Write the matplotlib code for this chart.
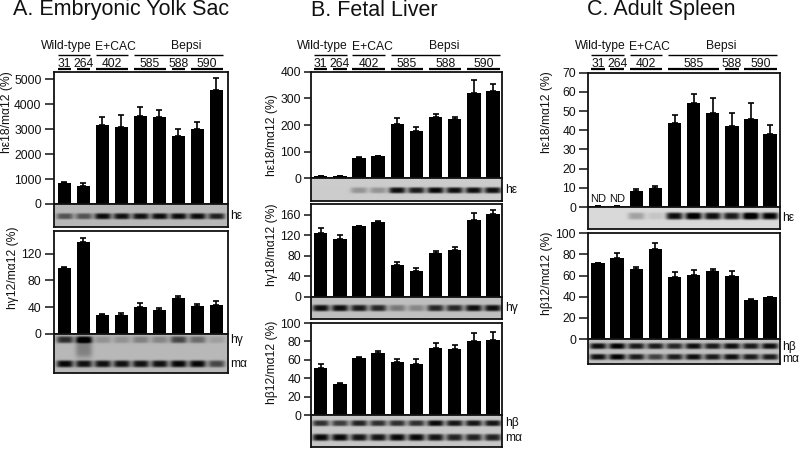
import matplotlib
matplotlib.use("Agg")
import matplotlib.pyplot as plt
from matplotlib.transforms import Affine2D, blended_transform_factory
import numpy as np

plt.rcParams['font.family'] = ['Liberation Sans', 'DejaVu Sans']

W, H = 800, 449
FS = 8.7

# bar heights and top of the error bars
a_eps = [860, 730, 3190, 3100, 3520, 3480, 2730, 3000, 4570]
a_eps_top = [897, 857, 3480, 3570, 3910, 3775, 3010, 3290, 5050]
a_gam = [98, 138, 28, 28, 40, 35, 53, 42, 43.5]
a_gam_top = [100.5, 144, 29.5, 31.5, 46, 38.5, 56, 45, 49]

b_eps = [7, 7, 78, 83, 205, 178, 230, 221, 320, 329]
b_eps_top = [8.5, 8.5, 79, 85, 227, 191, 243, 231, 367, 353]
b_gam = [125, 112, 137, 145, 62, 51, 86, 90, 149, 162]
b_gam_top = [133, 120, 138, 148, 67, 55, 89, 97, 164, 169]
b_bet = [51, 34, 62, 67.5, 57.5, 56, 73, 72, 81, 82]
b_bet_top = [56, 35, 63, 69.7, 61.5, 60.5, 78.7, 76, 89.5, 90.6]

c_eps = [0.4, 0.4, 8.3, 10, 43.6, 54.2, 49, 42.4, 46, 37.8]
c_eps_top = [0.4, 0.4, 9.5, 10.8, 47.7, 58.9, 57, 49, 54, 42.7]
c_bet = [71.6, 76.6, 66, 84.7, 59, 61, 64.4, 60, 36.6, 39.7]
c_bet_top = [72.2, 81, 67.8, 91, 63, 65.3, 66.3, 64, 37.5, 40]

# darkness of each gel band, lane by lane
a_eps_band = [0.4, 0.4, 0.68, 0.66, 0.66, 0.68, 0.68, 0.68, 0.6]
a_gam_band = [0.55, 0.7, 0.15, 0.15, 0.22, 0.2, 0.45, 0.3, 0.1]
a_gam_smear = [0, 0.22, 0, 0, 0, 0, 0, 0, 0]
a_ma_band = [0.7, 0.66, 0.66, 0.66, 0.66, 0.66, 0.7, 0.7, 0.45]
b_eps_band = [0, 0, 0.22, 0.22, 0.75, 0.7, 0.78, 0.75, 0.75, 0.75]
b_gam_band = [0.7, 0.7, 0.65, 0.6, 0.28, 0.22, 0.6, 0.6, 0.7, 0.7]
b_bet_band = [0.6, 0.55, 0.65, 0.6, 0.6, 0.6, 0.75, 0.7, 0.7, 0.7]
b_ma_band = [0.75, 0.75, 0.7, 0.7, 0.75, 0.75, 0.7, 0.65, 0.65, 0.65]
c_eps_band = [0, 0, 0.22, 0.08, 0.8, 0.9, 0.8, 0.75, 0.95, 0.85]
c_bet_band = [0.7, 0.75, 0.65, 0.65, 0.6, 0.7, 0.65, 0.7, 0.65, 0.7]
c_ma_band = [0.7, 0.75, 0.65, 0.5, 0.65, 0.7, 0.65, 0.7, 0.65, 0.65]

a_ticks = [0, 1000, 2000, 3000, 4000, 5000]
a_gam_ticks = [0, 40, 80, 120]
b_eps_ticks = [0, 100, 200, 300, 400]
b_gam_ticks = [0, 40, 80, 120, 160]
beta_ticks = [0, 20, 40, 60, 80, 100]
c_eps_ticks = [0, 10, 20, 30, 40, 50, 60, 70]

# lane numbers and the first/last lane they cover
a_lines = [('31', 0, 0), ('264', 1, 1), ('402', 2, 3), ('585', 4, 5), ('588', 6, 6), ('590', 7, 8)]
b_lines = [('31', 0, 0), ('264', 1, 1), ('402', 2, 3), ('585', 4, 5), ('588', 6, 7), ('590', 8, 9)]
c_lines = [('31', 0, 0), ('264', 1, 1), ('402', 2, 3), ('585', 4, 6), ('588', 7, 7), ('590', 8, 9)]

fig = plt.figure(figsize=(W / 100, H / 100), dpi=100)
px_trans = Affine2D().scale(1 / W, -1 / H).translate(0, 1) + fig.transFigure


def rect(x0, x1, y0, y1):
    return [x0 / W, 1 - y1 / H, (x1 - x0) / W, (y1 - y0) / H]


def put(x, y, s, size=FS, **kw):
    kw.setdefault('ha', 'center')
    kw.setdefault('va', 'center')
    fig.text(x, y, s, transform=px_trans, fontsize=size, color='#111111', **kw)


def bars(box, first, step, vals, tops, ymax, ticks, ylabel, ylabel_pos, ticklen=9):
    x0, x1, y0, y1 = box
    ax = fig.add_axes(rect(x0, x1, y0, y1))
    lanes = np.arange(len(vals))
    errs = np.array(tops) - np.array(vals)
    ax.bar(lanes, vals, width=0.7, color='black', zorder=2)
    ax.errorbar(lanes, vals, yerr=[np.zeros(len(vals)), errs], fmt='none', ecolor='black',
                elinewidth=1.2, capsize=2.4, capthick=1.2, zorder=1)
    ax.set_xlim((x0 - first) / step, (x1 - first) / step)
    ax.set_ylim(0, ymax)
    ax.set_xticks([])
    ax.set_yticks(ticks)
    ax.tick_params(axis='y', length=ticklen * 0.72, width=1.1, pad=2.2, labelsize=FS, colors='#111111')
    for s in ax.spines.values():
        s.set_linewidth(1.3)
        s.set_color('#111111')
    put(ylabel_pos[0], ylabel_pos[1], ylabel, rotation=90)
    return ax


def gel(box, first, step, bg, bands):
    # bands: (darkness per lane, centre in px below gel top, half thickness in px)
    x0, x1, y0, y1 = box
    ax = fig.add_axes(rect(x0, x1, y0, y1))
    xs = np.linspace((x0 - first) / step, (x1 - first) / step, int(x1 - x0) * 2)
    ys = np.linspace(0, y1 - y0, int(y1 - y0) * 2)
    xx, yy = np.meshgrid(xs, ys)
    img = np.full(xx.shape, float(bg))
    for dark, yc, thick in bands:
        for i, d in enumerate(dark):
            img -= d * np.exp(-((xx - i) / 0.44) ** 4) * np.exp(-((yy - yc) / thick) ** 4)
    ax.imshow(np.clip(img, 0, 1), cmap='gray', vmin=0, vmax=1, aspect='auto', interpolation='bilinear')
    ax.set_xticks([])
    ax.set_yticks([])
    for s in ax.spines.values():
        s.set_linewidth(1.3)
        s.set_color('#111111')


def header(ax, lines):
    tr = blended_transform_factory(ax.transData, px_trans)
    for lo, hi in [(0, 1), (2, 3), (4, lines[-1][2])]:
        ax.plot([lo - 0.35, hi + 0.35], [54.5, 54.5], color='black', lw=1.0, transform=tr,
                clip_on=False, solid_capstyle='butt')
    for name, x in [('Wild-type', 0.1), ('E+CAC', 2.68), ('Bepsi', 6.43)]:
        ax.text(x, 49.5, name, transform=tr, ha='center', va='baseline', fontsize=FS, color='#111111')
    for name, lo, hi in lines:
        ax.plot([lo - 0.35, hi + 0.35], [69.3, 69.3], color='black', lw=1.6, transform=tr,
                clip_on=False, solid_capstyle='butt')
        ax.text((lo + hi) / 2, 66.8, name, transform=tr, ha='center', va='baseline', fontsize=FS, color='#111111')


# A. Embryonic Yolk Sac
put(13, 10, 'A. Embryonic Yolk Sac', size=15.5, ha='left')
ax = bars((53.5, 227.5, 72, 204), 64.3, 19, a_eps, a_eps_top, 5300, a_ticks, 'hε18/mα12 (%)', (7, 112))
header(ax, a_lines)
gel((53.5, 227.5, 204, 226.5), 64.3, 19, 0.72, [(a_eps_band, 12, 3)])
put(230, 216, 'hε', ha='left')
bars((53.5, 227.5, 231, 333.7), 64.3, 19, a_gam, a_gam_top, 154, a_gam_ticks, 'hγ12/mα12 (%)', (13, 268))
gel((53.5, 227.5, 333.7, 372.7), 64.3, 19, 0.72,
    [(a_gam_band, 5.5, 3.5), (a_gam_smear, 14, 10), (a_ma_band, 30, 3.5)])
put(230, 340, 'hγ', ha='left')
put(230, 364, 'mα', ha='left')

# B. Fetal Liver
put(311, 10, 'B. Fetal Liver', size=15.5, ha='left')
ax = bars((311, 502, 71.7, 178.3), 320.7, 19.15, b_eps, b_eps_top, 400, b_eps_ticks, 'hε18/mα12 (%)', (272, 135), ticklen=7)
header(ax, b_lines)
gel((311, 502, 178.3, 200.7), 320.7, 19.15, 0.8, [(b_eps_band, 12, 3)])
put(505, 190, 'hε', ha='left')
bars((311, 502, 204.3, 296.7), 320.7, 19.15, b_gam, b_gam_top, 180, b_gam_ticks, 'hγ18/mα12 (%)', (272, 245), ticklen=7)
gel((311, 502, 296.7, 319), 320.7, 19.15, 0.75, [(b_gam_band, 11.7, 3.2)])
put(505, 308, 'hγ', ha='left')
bars((311, 502, 323, 415.3), 320.7, 19.15, b_bet, b_bet_top, 100, beta_ticks, 'hβ12/mα12 (%)', (272, 362), ticklen=7)
gel((311, 502, 415.3, 447), 320.7, 19.15, 0.78, [(b_bet_band, 8, 3), (b_ma_band, 22.3, 3.5)])
put(505, 423, 'hβ', ha='left')
put(505, 438, 'mα', ha='left')

# C. Adult Spleen
put(587, 10, 'C. Adult Spleen', size=15.5, ha='left')
ax = bars((588, 780, 72.7, 207), 598, 19.13, c_eps, c_eps_top, 70, c_eps_ticks, 'hε18/mα12 (%)', (547, 112))
header(ax, c_lines)
ax.text(0, 4.2, 'ND', ha='center', va='center', fontsize=8, color='#111111')
ax.text(1, 4.2, 'ND', ha='center', va='center', fontsize=8, color='#111111')
gel((588, 780, 207, 229.3), 598, 19.13, 0.85, [(c_eps_band, 9.7, 3.5)])
put(782, 218, 'hε', ha='left')
bars((588, 780, 233.3, 339), 598, 19.13, c_bet, c_bet_top, 100, beta_ticks, 'hβ12/mα12 (%)', (547, 273))
gel((588, 780, 339, 364), 598, 19.13, 0.75, [(c_bet_band, 7, 3), (c_ma_band, 18, 3)])
put(782, 347, 'hβ', ha='left')
put(782, 359, 'mα', ha='left')

fig.savefig('out.png', dpi=100)
